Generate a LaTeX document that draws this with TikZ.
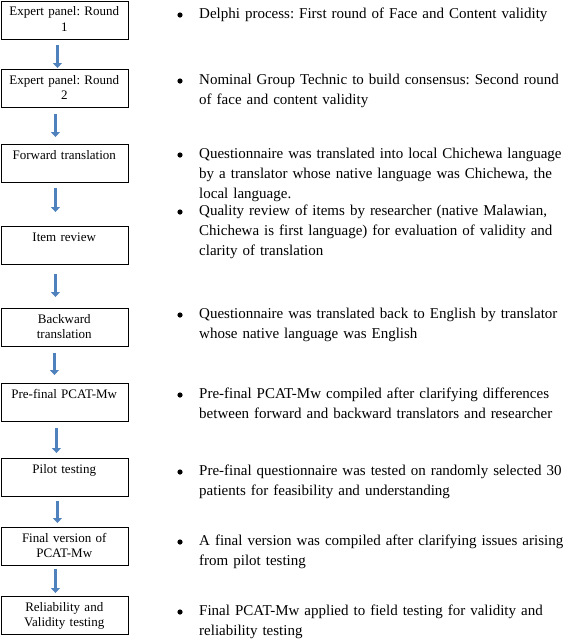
\documentclass[tikz,border=0pt]{standalone}
\usepackage{fontspec}
\setmainfont{Liberation Serif}
\usetikzlibrary{arrows.meta}
\definecolor{arrblue}{RGB}{79,129,189}
\frenchspacing
\hyphenpenalty=10000
\begin{document}
\begin{tikzpicture}[x=1pt,y=-1pt,
  box/.style={draw, line width=0.9pt, minimum width=127.5pt, minimum height=38pt, anchor=north west, inner sep=0pt},
  boxtext/.style={font=\fontsize{13}{15.5}\selectfont, text width=124pt, align=center, anchor=base, inner sep=0pt},
  item/.style={font=\fontsize{15}{19.8}\selectfont, text width=400pt, align=left, anchor=base west, inner sep=0pt},
  flow/.style={draw=arrblue, line width=3.6pt, -{Triangle[width=9pt,length=5pt]}}]
\useasboundingbox (0,0) rectangle (566,641);
% boxes
\node[box] (b1) at (0.5,0.5) {};
\node[box] (b2) at (0.5,69) {};
\node[box] (b3) at (0.5,144) {};
\node[box] (b4) at (0.5,226) {};
\node[box] (b5) at (0.5,308) {};
\node[box] (b6) at (0.5,383) {};
\node[box] (b7) at (0.5,458) {};
\node[box] (b8) at (0.5,527) {};
\node[box] (b9) at (0.5,596) {};
% box texts
\node[boxtext] (t1) at (64.25,15.9) {Expert panel: Round\\1};
\node[boxtext] (t2) at (64.25,84.4) {Expert panel: Round\\2};
\node[boxtext] (t3) at (64.25,159.4) {Forward translation};
\node[boxtext] (t4) at (64.25,241.4) {Item review};
\node[boxtext] (t5) at (64.25,323.4) {Backward\\translation};
\node[boxtext] (t6) at (64.25,398.4) {Pre-final PCAT-Mw};
\node[boxtext] (t7) at (64.25,473.4) {Pilot testing};
\node[boxtext] (t8) at (64.25,542.4) {Final version of\\PCAT-Mw};
\node[boxtext] (t9) at (64.25,611.4) {Reliability and\\Validity testing};
% arrows
\draw[flow, shorten <=5.5pt, shorten >=1pt] ([xshift=-7.25pt]b1.south) -- ([xshift=-7.25pt]b2.north);
\draw[flow, shorten <=6pt, shorten >=7pt] ([xshift=-9.25pt]b2.south) -- ([xshift=-9.25pt]b3.north);
\draw[flow, shorten <=5pt, shorten >=14pt] ([xshift=-9.25pt]b3.south) -- ([xshift=-9.25pt]b4.north);
\draw[flow, shorten <=9pt, shorten >=11pt] ([xshift=-9.25pt]b4.south) -- ([xshift=-9.25pt]b5.north);
\draw[flow, shorten <=6pt, shorten >=8pt] ([xshift=-10.25pt]b5.south) -- ([xshift=-10.25pt]b6.north);
\draw[flow, shorten <=6pt, shorten >=5pt] ([xshift=-8.25pt]b6.south) -- ([xshift=-8.25pt]b7.north);
\draw[flow, shorten <=4pt, shorten >=4pt] ([xshift=-7.25pt]b7.south) -- ([xshift=-7.25pt]b8.north);
\draw[flow, shorten <=3pt, shorten >=3pt] ([xshift=-9.25pt]b8.south) -- ([xshift=-9.25pt]b9.north);
% bullets
\foreach \y in {15,81,155,212,315,395,472,542,612} \fill (180,\y) circle (2.6);
% items
\node[item] (i1) at (199,18.5) {Delphi process: First round of Face and Content validity};
\node[item] (i2) at (199,84.5) {Nominal Group Technic to build consensus: Second round\\of face and content validity};
\node[item] (i3) at (199,158.5) {Questionnaire was translated into local Chichewa language\\by a translator whose native language was Chichewa, the\\local language.};
\node[item] (i4) at (199,215.5) {Quality review of items by researcher (native Malawian,\\Chichewa is first language) for evaluation of validity and\\clarity of translation};
\node[item] (i5) at (199,318.5) {Questionnaire was translated back to English by translator\\whose native language was English};
\node[item] (i6) at (199,398.5) {Pre-final PCAT-Mw compiled after clarifying differences\\between forward and backward translators and researcher};
\node[item] (i7) at (199,475.5) {Pre-final questionnaire was tested on randomly selected 30\\patients for feasibility and understanding};
\node[item] (i8) at (199,545.5) {A final version was compiled after clarifying issues arising\\from pilot testing};
\node[item] (i9) at (199,615.5) {Final PCAT-Mw applied to field testing for validity and\\reliability testing};
\end{tikzpicture}
\end{document}
